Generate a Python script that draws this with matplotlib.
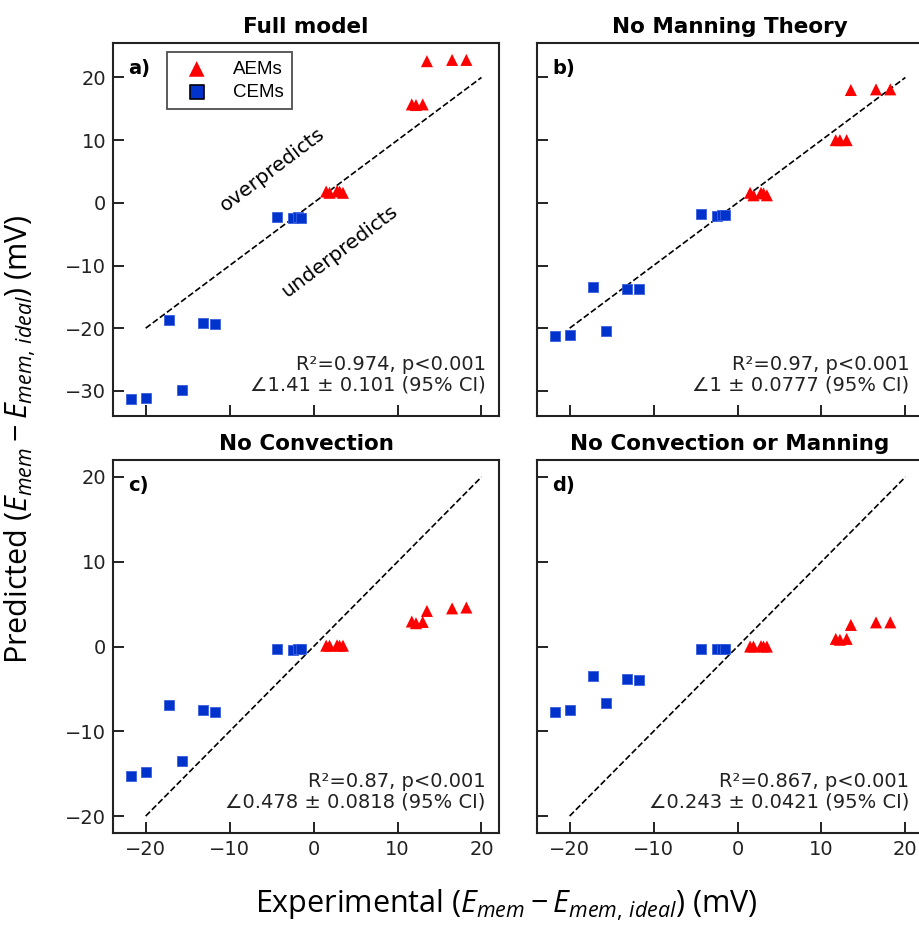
#!/usr/bin/env python3
"""
Predicted vs experimental membrane potential for the four model variants
(full model / no Manning / no convection / no convection or Manning).
"""

import matplotlib
matplotlib.use("Agg")
import matplotlib.pyplot as plt
import numpy as np

# experimental values (mV), shared by all panels
x_cem = [-21.8, -20.0, -17.2, -15.7, -13.2, -11.7, -4.4, -2.4, -1.8, -1.5]
x_aem = [1.5, 1.9, 2.8, 3.1, 3.5, 11.7, 12.2, 13.0, 13.5, 16.5, 18.2]

# predicted values (mV) for each model variant
full_cem = [-31.3, -31.1, -18.7, -29.9, -19.2, -19.3, -2.2, -2.4, -2.3, -2.5]
full_aem = [1.8, 1.6, 1.9, 1.8, 1.6, 15.7, 15.6, 15.7, 22.6, 22.8, 22.8]

nomanning_cem = [-21.2, -21.1, -13.5, -20.5, -13.8, -13.8, -1.8, -2.1, -1.9, -1.9]
nomanning_aem = [1.6, 1.2, 1.6, 1.5, 1.2, 10.0, 10.0, 10.0, 18.0, 18.1, 18.1]

noconv_cem = [-15.3, -14.8, -6.9, -13.5, -7.5, -7.7, -0.3, -0.4, -0.3, -0.3]
noconv_aem = [0.1, 0.1, 0.15, 0.1, 0.1, 2.95, 2.75, 2.9, 4.2, 4.5, 4.6]

noboth_cem = [-7.7, -7.5, -3.5, -6.7, -3.8, -3.9, -0.25, -0.25, -0.25, -0.25]
noboth_aem = [0.0, 0.0, 0.05, 0.0, 0.0, 0.9, 0.8, 0.9, 2.55, 2.85, 2.85]

titles = ["Full model", "No Manning Theory", "No Convection", "No Convection or Manning"]
letters = ["a)", "b)", "c)", "d)"]
stats = [
    "R\u00b2=0.974, p<0.001\n\u22201.41 \u00b1 0.101 (95% CI)",
    "R\u00b2=0.97, p<0.001\n\u22201 \u00b1 0.0777 (95% CI)",
    "R\u00b2=0.87, p<0.001\n\u22200.478 \u00b1 0.0818 (95% CI)",
    "R\u00b2=0.867, p<0.001\n\u22200.243 \u00b1 0.0421 (95% CI)",
]
parity = [-20, 20]

RED = "#ff0000"
BLUE = "#0033cc"

plt.rcParams["mathtext.fontset"] = "custom"
plt.rcParams["mathtext.rm"] = "Open Sans"
plt.rcParams["mathtext.it"] = "Open Sans:italic"

fig = plt.figure(figsize=(9.19, 9.26), dpi=100)

# panel positions (figure fraction); right column runs past the edge like the source image
W, H = 0.420, 0.4028
lefts = [0.123, 0.5843, 0.123, 0.5843]
bottoms = [0.5508, 0.5508, 0.1004, 0.1004]

series = [(full_cem, full_aem), (nomanning_cem, nomanning_aem),
          (noconv_cem, noconv_aem), (noboth_cem, noboth_aem)]

axes = []
for i in range(4):
    sharex = axes[0] if i > 0 else None
    sharey = None
    if i == 1:
        sharey = axes[0]
    if i == 3:
        sharey = axes[2]
    ax = fig.add_axes([lefts[i], bottoms[i], W, H], sharex=sharex, sharey=sharey)
    axes.append(ax)

    cem, aem = series[i]
    ax.plot(parity, parity, "k--", linewidth=1.2, zorder=1)
    ax.scatter(x_aem, aem, marker="^", s=75, color=RED, edgecolors="none",
               label="AEMs", zorder=3)
    ax.scatter(x_cem, cem, marker="s", s=60, color=BLUE, edgecolors="#3a5fe0",
               linewidths=0.6, label="CEMs", zorder=3)

    ax.set_title(titles[i], fontsize=15.5, fontweight="bold", pad=7)
    ax.text(0.039, 0.958, letters[i], transform=ax.transAxes, fontsize=14,
            fontweight="bold", va="top", ha="left")
    ax.text(0.965, 0.058, stats[i], transform=ax.transAxes, fontsize=14,
            ha="right", va="bottom", linespacing=1.1, color="#222222")

    ax.tick_params(direction="in", length=8, width=1.4, labelsize=14, pad=5,
                   top=False, right=False, colors="#222222")
    for sp in ax.spines.values():
        sp.set_linewidth(1.5)
        sp.set_color("#222222")

    if i in (0, 1):
        ax.tick_params(labelbottom=False)
    if i in (1, 3):
        ax.tick_params(labelleft=False)

axes[0].set_yticks([-30, -20, -10, 0, 10, 20])
axes[2].set_yticks([-20, -10, 0, 10, 20])
axes[2].set_xticks([-20, -10, 0, 10, 20])

# guide text on the first panel
axes[0].text(-4.9, 5.3, "overpredicts", rotation=37, fontsize=14.5,
             ha="center", va="center", rotation_mode="anchor")
axes[0].text(3.1, -7.7, "underpredicts", rotation=37, fontsize=14.5,
             ha="center", va="center", rotation_mode="anchor")

# legend
leg = axes[0].legend(loc="upper left", bbox_to_anchor=(0.139, 0.975),
                     borderaxespad=0, frameon=True, fancybox=False,
                     handlelength=2.3, handletextpad=0.8, borderpad=0.45,
                     labelspacing=0.3, markerscale=1.3,
                     prop={"family": "Liberation Sans", "size": 13.5})
leg.get_frame().set_edgecolor("#222222")
leg.get_frame().set_linewidth(1.3)
leg.legend_handles[1].set_edgecolor("black")
leg.legend_handles[1].set_linewidth(1.2)

# shared axis labels
fig.text(0.551, 0.014, r"Experimental ($E_{mem} - E_{mem,\,ideal}$) (mV)",
         fontsize=22, family="Open Sans", ha="center", va="baseline")
fig.text(0.022, 0.526, r"Predicted ($E_{mem} - E_{mem,\,ideal}$) (mV)",
         fontsize=22, family="Open Sans", ha="center", va="center", rotation=90)

plt.savefig("out.png", dpi=100)
